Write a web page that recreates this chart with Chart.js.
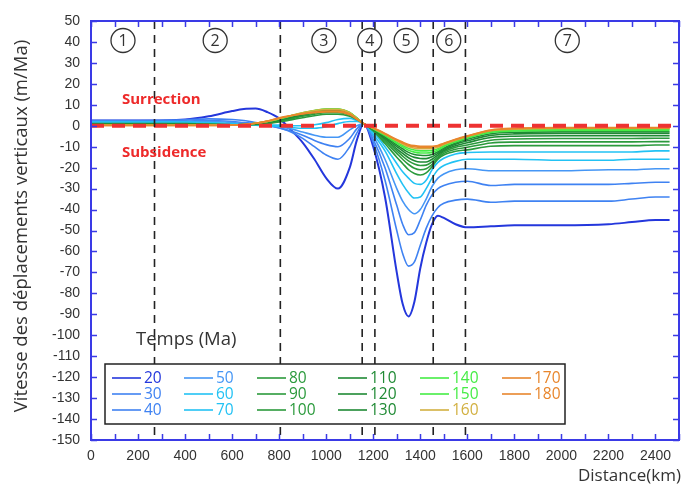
<!DOCTYPE html>
<html>
<head>
<meta charset="utf-8">
<script src="https://cdn.jsdelivr.net/npm/chart.js@4/dist/chart.umd.min.js"></script>
<style>
html,body{margin:0;padding:0;background:#fff;}
#wrap{position:relative;width:687px;height:486px;}
</style>
</head>
<body>
<div id="wrap"><canvas id="c" width="687" height="486"></canvas></div>
<script>
// ---- data ----
const distanceKm = [0, 200, 400, 500, 600, 650, 700, 750, 800, 850, 900, 950, 1000, 1050, 1100, 1130, 1160, 1200, 1250, 1300, 1325, 1350, 1375, 1400, 1425, 1450, 1475, 1500, 1550, 1600, 1700, 1800, 2000, 2200, 2300, 2400, 2460];
const ages = [20, 30, 40, 50, 60, 70, 80, 90, 100, 110, 120, 130, 140, 150, 160, 170, 180];
const v20 = [2.5, 2.5, 3, 4.5, 7, 8, 8.2, 6.5, 3.5, -2, -8, -16, -25, -30, -20, -7, 1, -10, -34, -70, -85, -91, -84, -68, -56, -47, -43, -44, -47, -48.5, -48, -47.5, -47.5, -47, -46, -45, -45];
const v30 = [2.5, 2.5, 2.8, 3.3, 3, 2.5, 1.5, 0.5, -1, -3, -6, -10, -14, -16, -10, -3.5, 1, -8, -26, -50, -61, -67, -65, -57, -49, -43, -39, -37, -35.5, -35, -36.5, -36, -36, -36, -35, -34, -34];
const v40 = [2.2, 2.2, 2.3, 2.5, 2, 1.5, 1, 0, -1, -2.5, -4.5, -7, -9, -10, -6, -1.5, 1, -6.5, -20, -38, -47, -52, -51, -45, -38, -33, -30, -28.5, -27, -26.5, -28.5, -28, -28, -28, -27.5, -27, -27];
const v50 = [2, 2, 2, 2, 1.5, 1, 0.5, 0, -0.5, -1.5, -3, -4.5, -5.5, -5.5, -2, 0, 1, -5, -16, -30, -36, -40, -42, -40, -35, -29, -25, -23, -21, -20.5, -21.5, -21.5, -21.5, -21, -21, -20.5, -20.5];
const v60 = [1.8, 1.8, 1.8, 1.5, 1, 0.6, 0.3, 0, -0.3, -0.8, -1.2, -1.2, -0.5, 1, 2, 2, 1, -4, -12, -23, -28, -32, -34.5, -34, -30, -25, -21, -19, -17, -16, -16, -16, -16.5, -16.5, -16, -16, -16];
const v70 = [1.5, 1.5, 1.5, 1.2, 0.8, 0.5, 0.5, 0.3, 0.3, 0, 0, 0.5, 1.5, 3, 3.5, 2.5, 1, -3, -10, -18, -22, -25, -27.5, -28, -26, -21, -17.5, -15.5, -13.5, -12.8, -12.5, -12.5, -12.5, -12.5, -12.5, -12, -12];
const v80 = [1, 1, 1, 0.8, 0.5, 0.5, 0.6, 1, 1.8, 2.8, 3.8, 4.8, 5.5, 5.5, 4.5, 3, 1, -2.5, -8.5, -15, -18, -21, -22.8, -23.5, -22.5, -19.5, -16, -14, -12.2, -11.5, -9.8, -9.5, -9.5, -9.5, -9.5, -9.2, -9.2];
const v90 = [0.9, 0.9, 0.9, 0.7, 0.5, 0.5, 0.7, 1.2, 2.2, 3.3, 4.5, 5.5, 6.2, 6.2, 5, 3.2, 1, -2.2, -7.5, -13.2, -16, -18.5, -20.3, -21, -20.5, -18.5, -15.5, -13.2, -11.2, -10.3, -8.2, -7.8, -7.7, -7.7, -7.7, -7.6, -7.6];
const v100 = [0.8, 0.8, 0.8, 0.6, 0.5, 0.5, 0.8, 1.4, 2.5, 3.7, 5, 6, 6.8, 6.8, 5.4, 3.3, 1, -2, -6.8, -12, -14.5, -16.8, -18.3, -19, -18.8, -17.2, -14.8, -12.5, -10.3, -9.2, -6.9, -6.3, -6.1, -6.1, -6.1, -6, -6];
const v110 = [0.7, 0.7, 0.7, 0.5, 0.5, 0.6, 0.9, 1.6, 2.7, 4, 5.3, 6.4, 7.2, 7.2, 5.7, 3.4, 1, -1.8, -6.2, -11, -13.2, -15.3, -16.7, -17.3, -17.3, -16, -14, -11.8, -9.5, -8.1, -5.6, -5, -4.8, -4.8, -4.8, -4.8, -4.8];
const v120 = [0.6, 0.6, 0.6, 0.5, 0.5, 0.6, 1, 1.8, 2.9, 4.3, 5.6, 6.8, 7.5, 7.5, 6, 3.5, 1, -1.6, -5.6, -10, -12, -13.9, -15.1, -15.6, -15.7, -14.8, -13.2, -11.2, -8.8, -7.2, -4.6, -3.9, -3.7, -3.7, -3.7, -3.7, -3.7];
const v130 = [0.5, 0.5, 0.5, 0.4, 0.4, 0.6, 1.1, 1.9, 3.1, 4.5, 5.9, 7, 7.7, 7.7, 6.1, 3.6, 1, -1.5, -5.1, -9.1, -11, -12.7, -13.7, -14.1, -14.2, -13.7, -12.4, -10.6, -8.2, -6.4, -3.8, -3.1, -2.9, -2.9, -2.9, -2.9, -2.9];
const v140 = [0.4, 0.4, 0.4, 0.4, 0.4, 0.6, 1.2, 2, 3.2, 4.7, 6.1, 7.2, 7.9, 7.9, 6.2, 3.7, 1, -1.4, -4.7, -8.4, -10.1, -11.7, -12.6, -13, -13, -12.7, -11.7, -10, -7.7, -5.9, -3.2, -2.5, -2.2, -2.2, -2.2, -2.2, -2.2];
const v150 = [0.3, 0.3, 0.3, 0.3, 0.4, 0.6, 1.2, 2.1, 3.3, 4.8, 6.2, 7.3, 8, 8, 6.3, 3.7, 1, -1.3, -4.4, -7.8, -9.4, -10.8, -11.6, -12, -12, -11.8, -11, -9.5, -7.3, -5.5, -2.7, -2, -1.6, -1.6, -1.6, -1.6, -1.6];
const v160 = [0.3, 0.3, 0.3, 0.3, 0.4, 0.6, 1.2, 2.1, 3.4, 4.9, 6.2, 7.3, 7.8, 7.8, 6.2, 3.6, 1, -1.2, -4.1, -7.2, -8.7, -10, -10.7, -11, -11, -10.9, -10.3, -9, -6.9, -5.2, -2.4, -1.7, -1.3, -1.3, -1.3, -1.3, -1.3];
const v170 = [0.2, 0.2, 0.2, 0.2, 0.3, 0.6, 1.2, 2.2, 3.6, 4.8, 5.8, 6.6, 7, 7, 5.6, 3.3, 1, -1.1, -3.9, -6.8, -8.2, -9.4, -10, -10.3, -10.3, -10.2, -9.7, -8.6, -6.6, -5, -2.2, -1.4, -1.1, -1.1, -1.1, -1.1, -1.1];
const v180 = [0.2, 0.2, 0.2, 0.2, 0.3, 0.6, 1.2, 2.3, 3.8, 4.8, 5.6, 6.2, 6.6, 6.6, 5.2, 3.1, 1, -1, -3.7, -6.5, -7.8, -8.9, -9.5, -9.8, -9.8, -9.8, -9.4, -8.3, -6.4, -4.8, -2, -1.2, -0.9, -0.9, -0.9, -0.9, -0.9];
const seriesValues = [v20, v30, v40, v50, v60, v70, v80, v90, v100, v110, v120, v130, v140, v150, v160, v170, v180];
const boundariesKm = [270, 805, 1153, 1207, 1455, 1592];
const zoneNames = ['1', '2', '3', '4', '5', '6', '7'];
const zoneCentersKm = [136, 528, 990, 1185, 1340, 1521, 2025];
const zoneLevel = 40.7;
const xTickStep = 100;
const yTickStep = 10;

// ---- styles ----
const seriesColors = ['#2437dc', '#3f82f2', '#3f82f2', '#4596f5', '#22c2f4', '#22c2f4', '#2b9a3c', '#2b9a3c', '#2b9a3c', '#1f8a34', '#1f8a34', '#1f8a34', '#45ec45', '#45ec45', '#d2b040', '#e8862c', '#e8862c'];
const axisBlue = '#3a3ae6';

const datasets = [];
ages.forEach((age, i) => {
  datasets.push({
    label: String(age),
    data: distanceKm.map((x, j) => ({x: x, y: seriesValues[i][j]})),
    borderColor: seriesColors[i],
    borderWidth: i === 0 ? 2 : 1.6,
    pointRadius: 0,
    cubicInterpolationMode: 'monotone',
    order: 20 - i
  });
});
// zero line (red dashed)
datasets.push({
  label: 'zero',
  data: [{x: 0, y: 0}, {x: 2500, y: 0}],
  borderColor: '#ee3232',
  borderWidth: 4,
  borderDash: [13, 8],
  pointRadius: 0,
  order: 1
});
// zone boundaries (black dashed)
boundariesKm.forEach(b => {
  datasets.push({
    label: 'b' + b,
    data: [{x: b, y: 50}, {x: b, y: -150}],
    borderColor: '#222',
    borderWidth: 1.6,
    borderDash: [8, 6],
    pointRadius: 0,
    order: 0
  });
});

const decorPlugin = {
  id: 'decor',
  afterDatasetsDraw(chart) {
    const ctx = chart.ctx;
    const xs = chart.scales.x, ys = chart.scales.y;
    const a = chart.chartArea;
    ctx.save();
    // frame
    ctx.strokeStyle = axisBlue;
    ctx.lineWidth = 2;
    ctx.strokeRect(a.left, a.top, a.right - a.left, a.bottom - a.top);
    ctx.lineWidth = 1.5;
    ctx.beginPath();
    for (let v = 0; v <= 2500; v += xTickStep) {
      const px = Math.round(xs.getPixelForValue(v)) + 0.5;
      ctx.moveTo(px, a.bottom); ctx.lineTo(px, a.bottom - 6);
      ctx.moveTo(px, a.top); ctx.lineTo(px, a.top + 6);
    }
    for (let v = -150; v <= 50; v += yTickStep) {
      const py = Math.round(ys.getPixelForValue(v)) + 0.5;
      ctx.moveTo(a.left, py); ctx.lineTo(a.left + 6, py);
      ctx.moveTo(a.right, py); ctx.lineTo(a.right - 6, py);
    }
    ctx.stroke();

    // zone circles
    ctx.font = '16px "Open Sans", sans-serif';
    ctx.textAlign = 'center';
    ctx.textBaseline = 'middle';
    zoneNames.forEach((n, i) => {
      const cx = xs.getPixelForValue(zoneCentersKm[i]);
      const cy = ys.getPixelForValue(zoneLevel);
      ctx.fillStyle = '#fff';
      ctx.beginPath(); ctx.arc(cx, cy, 12, 0, Math.PI * 2); ctx.fill();
      ctx.strokeStyle = '#333'; ctx.lineWidth = 1.3;
      ctx.stroke();
      ctx.fillStyle = '#333';
      ctx.fillText(n, cx, cy + 0.5);
    });

    // annotations
    ctx.textAlign = 'left';
    ctx.fillStyle = '#ee2a2a';
    ctx.font = 'bold 15px "Open Sans", sans-serif';
    ctx.fillText('Surrection', 122, 100);
    ctx.fillText('Subsidence', 122, 153);
    ctx.fillStyle = '#333';
    ctx.font = '18.5px "Open Sans", sans-serif';
    ctx.fillText('Temps (Ma)', 136, 340);

    // legend box
    const L = {x: 105, y: 364, w: 460, h: 60};
    ctx.fillStyle = '#fff';
    ctx.fillRect(L.x, L.y, L.w, L.h);
    ctx.strokeStyle = '#222'; ctx.lineWidth = 1.5;
    ctx.strokeRect(L.x, L.y, L.w, L.h);
    const colX = [112, 184, 257, 338, 420, 502];
    const rowY = [378, 394, 410];
    ctx.font = '15.5px "Open Sans", sans-serif';
    ctx.textBaseline = 'middle';
    ages.forEach((age, i) => {
      const c = Math.floor(i / 3), r = i % 3;
      const x0 = colX[c], y0 = rowY[r];
      ctx.strokeStyle = seriesColors[i]; ctx.lineWidth = 1.6;
      ctx.beginPath(); ctx.moveTo(x0, y0); ctx.lineTo(x0 + 29, y0); ctx.stroke();
      ctx.fillStyle = seriesColors[i];
      ctx.fillText(String(age), x0 + 32, y0 + 0.5);
    });
    ctx.restore();
  }
};

new Chart(document.getElementById('c'), {
  type: 'line',
  data: {datasets: datasets},
  options: {
    responsive: false,
    animation: false,
    events: [],
    layout: {padding: {top: 21, right: 1, left: 0, bottom: 0}},
    plugins: {legend: {display: false}, tooltip: {enabled: false}},
    scales: {
      x: {
        type: 'linear', min: 0, max: 2500,
        grid: {display: false, drawTicks: false},
        border: {display: false},
        afterFit: s => { s.height = 46; },
        ticks: {
          stepSize: 100, padding: 8, color: '#333', maxRotation: 0, autoSkip: false,
          font: {family: '"Liberation Sans", Arial, sans-serif', size: 14},
          callback: v => (v % 200 === 0 && v <= 2400) ? String(v) : ''
        },
        title: {display: false}
      },
      y: {
        type: 'linear', min: -150, max: 50,
        grid: {display: false, drawTicks: false},
        border: {display: false},
        afterFit: s => { s.width = 91; },
        ticks: {
          stepSize: 10, padding: 11, color: '#333', autoSkip: false,
          font: {family: '"Liberation Sans", Arial, sans-serif', size: 14}
        },
        title: {display: false}
      }
    }
  },
  plugins: [decorPlugin, {
    id: 'titles',
    afterDraw(chart) {
      const ctx = chart.ctx;
      ctx.save();
      ctx.fillStyle = '#333';
      ctx.font = '17px "Open Sans", sans-serif';
      ctx.textAlign = 'right';
      ctx.textBaseline = 'middle';
      ctx.fillText('Distance(km)', 681, 476);
      ctx.translate(22, 226);
      ctx.rotate(-Math.PI / 2);
      ctx.textAlign = 'center';
      ctx.font = '18.5px "Open Sans", sans-serif';
      ctx.fillText('Vitesse des déplacements verticaux (m/Ma)', 0, 0);
      ctx.restore();
    }
  }]
});
</script>
</body>
</html>
